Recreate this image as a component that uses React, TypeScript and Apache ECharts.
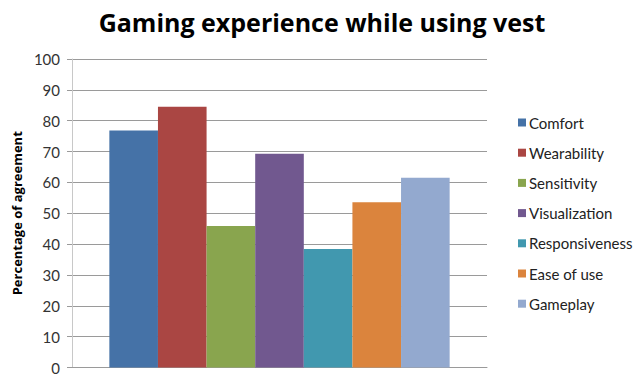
import React, { useEffect, useRef } from "react";
import * as echarts from "echarts";

const categories = [""];
const seriesNames = ["Comfort", "Wearability", "Sensitivity", "Visualization", "Responsiveness", "Ease of use", "Gameplay"];
const seriesValues = [76.8, 84.5, 45.9, 69.3, 38.4, 53.6, 61.5];
const seriesColors = ["#4572A7", "#AA4643", "#89A54E", "#71588F", "#4198AF", "#DB843D", "#93A9CF"];
const yTicks = [0, 10, 20, 30, 40, 50, 60, 70, 80, 90, 100];

export default function App() {
  const ref = useRef<HTMLDivElement>(null);
  useEffect(() => {
    if (!ref.current) return;
    const chart = echarts.init(ref.current, null, { renderer: "svg" });
    const font = "Open Sans, Noto Sans, sans-serif";
    const font2 = "Lato, Noto Sans, sans-serif";
    chart.setOption({
      animation: false,
      title: {
        text: "Gaming experience while using vest",
        left: "center",
        top: 4,
        textStyle: { fontFamily: font, fontWeight: "bold", fontSize: 25, color: "#000" },
      },
      legend: {
        orient: "vertical",
        left: 513,
        top: 110,
        itemWidth: 8,
        itemHeight: 8,
        itemGap: 15.2,
        icon: "rect",
        data: seriesNames,
        textStyle: { fontFamily: font2, fontSize: 15, color: "#222", padding: [0, 0, 0, -2] },
      },
      grid: { left: 72, top: 59, right: 157, bottom: 6, containLabel: false },
      xAxis: {
        type: "category",
        data: categories,
        axisLine: { show: true, lineStyle: { color: "#9a9a9a" } },
        axisTick: { show: false },
        axisLabel: { show: false },
      },
      yAxis: {
        type: "value",
        min: yTicks[0],
        max: yTicks[yTicks.length - 1],
        interval: 10,
        name: "Percentage of agreement",
        nameLocation: "middle",
        nameGap: 48,
        nameTextStyle: { fontFamily: font, fontWeight: "bold", fontSize: 13, color: "#000" },
        axisLine: { show: true, lineStyle: { color: "#c8c8c8" } },
        axisTick: { show: true, length: 5, lineStyle: { color: "#9a9a9a" } },
        axisLabel: { fontFamily: font2, fontSize: 15, color: "#333", margin: 12 },
        splitLine: { show: true, lineStyle: { color: "#9a9a9a" } },
      },
      series: seriesNames.map((name, i) => ({
        name,
        type: "bar",
        data: [seriesValues[i]],
        itemStyle: { color: seriesColors[i] },
        barGap: "0%",
        barCategoryGap: "18%",
      })),
    });
    return () => chart.dispose();
  }, []);
  return <div ref={ref} style={{ position: "absolute", left: 0, top: 0, width: 644, height: 375 }} />;
}
